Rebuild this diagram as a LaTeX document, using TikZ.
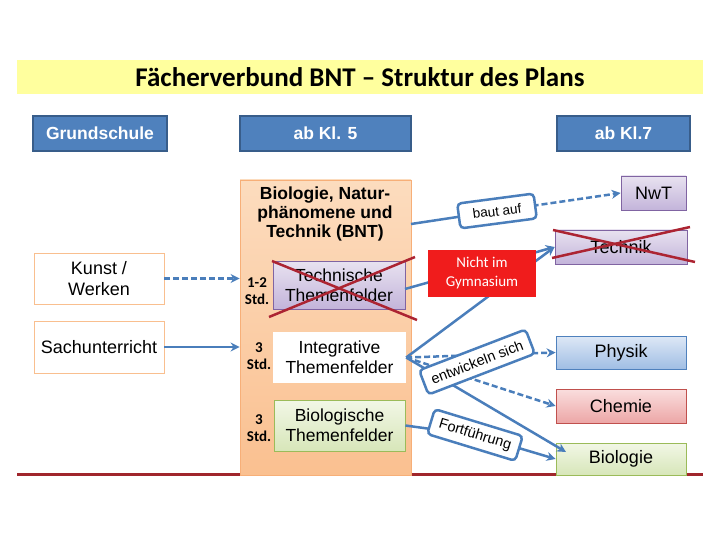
\documentclass[tikz,border=0pt]{standalone}
\usepackage{fontspec}
\setmainfont{Liberation Sans}
\newfontfamily\calfont{Carlito}
\usetikzlibrary{arrows.meta}
\pgfdeclarelayer{fg}
\pgfsetlayers{main,fg}
\definecolor{hdrfill}{RGB}{79,129,189}
\definecolor{hdrdraw}{RGB}{56,93,138}
\definecolor{conn}{RGB}{74,126,187}
\definecolor{bntlight}{RGB}{252,220,190}
\definecolor{bntdark}{RGB}{250,192,144}
\definecolor{bntdraw}{RGB}{247,175,120}
\definecolor{lavtop}{RGB}{232,226,240}
\definecolor{lavbot}{RGB}{195,180,218}
\definecolor{lavdraw}{RGB}{128,100,162}
\definecolor{grtop}{RGB}{242,247,230}
\definecolor{grbot}{RGB}{215,230,185}
\definecolor{grdraw}{RGB}{155,187,89}
\definecolor{bltop}{RGB}{222,232,246}
\definecolor{blbot}{RGB}{160,190,228}
\definecolor{bldraw}{RGB}{79,129,189}
\definecolor{rdtop}{RGB}{250,222,222}
\definecolor{rdbot}{RGB}{236,166,166}
\definecolor{rddraw}{RGB}{192,80,77}
\definecolor{titlebg}{RGB}{255,255,158}
\definecolor{xred}{RGB}{172,36,50}
\definecolor{barred}{RGB}{160,38,44}
\definecolor{nichtred}{RGB}{240,28,28}
\definecolor{orangeedge}{RGB}{249,191,143}
\begin{document}
\begin{tikzpicture}[x=1pt,y=-1pt,
  base/.style={rectangle, inner sep=0pt, align=center, font=\fontsize{18}{21}\selectfont},
  hdr/.style={base, fill=hdrfill, draw=hdrdraw, line width=1.5pt, text=white,
    font=\fontsize{17.5}{20}\selectfont\bfseries},
  titlebox/.style={rectangle, inner sep=0pt, fill=titlebg, font=\calfont\bfseries\fontsize{27}{30}\selectfont},
  bntbox/.style={rectangle, top color=bntlight, bottom color=bntdark, draw=bntdraw, line width=0.8pt},
  lavbox/.style={base, top color=lavtop, bottom color=lavbot, draw=lavdraw, line width=0.8pt},
  grbox/.style={base, top color=grtop, bottom color=grbot, draw=grdraw, line width=0.8pt},
  blbox/.style={base, top color=bltop, bottom color=blbot, draw=bldraw, line width=0.8pt},
  rdbox/.style={base, top color=rdtop, bottom color=rdbot, draw=rddraw, line width=0.8pt},
  whbox/.style={base, fill=white, draw=orangeedge, line width=0.8pt},
  themes/.style={font=\fontsize{17.5}{20}\selectfont},
  stdlbl/.style={inner sep=0pt, align=center, font=\calfont\bfseries\fontsize{15}{17}\selectfont},
  conline/.style={draw=conn, line width=2.5pt},
  arr/.style={conline, -{Stealth[length=9pt,width=9pt]}},
  dsh/.style={dash pattern=on 6pt off 3pt},
  lbl/.style={rectangle, rounded corners=4pt, draw=conn, line width=2.5pt, fill=white,
    inner sep=0pt, font=\fontsize{14.5}{16}\selectfont},
  xline/.style={draw=xred, line width=2.5pt}
]
\useasboundingbox (0,0) rectangle (720,540);

% bottom bar
\coordinate (barl) at (17,474);
\coordinate (barr) at (703,474);
\draw[barred, line width=3pt] (barl) -- (barr);

% title
\node[titlebox, minimum width=686pt, minimum height=34pt] (title) at (360,77)
  {Fächerverbund BNT – Struktur des Plans};

% headers
\node[hdr, minimum width=134pt, minimum height=35pt] (grund) at (100,133.5) {Grundschule};
\node[hdr, minimum width=171pt, minimum height=35pt] (kl5) at (325.5,133.5) {ab Kl. 5};
\node[hdr, minimum width=133pt, minimum height=35pt] (kl7) at (623.5,133.5) {ab Kl.7};

% BNT column
\node[bntbox, minimum width=171pt, minimum height=295pt] (bnt) at (325.5,327.5) {};
\node[inner sep=0pt, align=center, font=\fontsize{17.5}{19}\selectfont\bfseries] (bnttxt) at (325,214)
  {Biologie, Natur-\\phänomene und\\Technik (BNT)};
\node[lavbox, themes, minimum width=132pt, minimum height=48pt] (tech) at (339,285)
  {Technische\\Themenfelder};
\node[base, themes, fill=white, minimum width=133pt, minimum height=51pt] (integ) at (339.5,357.5)
  {Integrative\\Themenfelder};
\node[grbox, themes, minimum width=131pt, minimum height=51pt] (biol) at (339.5,425.5)
  {Biologische\\Themenfelder};
\node[stdlbl] (std1) at (257,291.5) {1-2\\Std.};
\node[stdlbl] (std2) at (259,356.5) {3\\Std.};
\node[stdlbl] (std3) at (259,428.5) {3\\Std.};

% red cross over Technische Themenfelder
\coordinate (tx1) at (272,261);
\coordinate (tx2) at (417,320);
\coordinate (tx3) at (415,257);
\coordinate (tx4) at (269,317);
\draw[xline] (tx1) -- (tx2);
\draw[xline] (tx3) -- (tx4);

% Grundschule boxes
\node[whbox, minimum width=130pt, minimum height=51pt] (kunst) at (99,278.5) {Kunst /\\Werken};
\node[whbox, minimum width=130pt, minimum height=52pt] (sach) at (99,347) {Sachunterricht};

% right column
\node[lavbox, minimum width=65pt, minimum height=34pt] (nwt) at (653.5,193) {NwT};
\node[lavbox, minimum width=132pt, minimum height=34pt] (technik) at (621,247) {Technik};
\node[blbox, minimum width=130pt, minimum height=33pt] (physik) at (621,352.5) {Physik};
\node[rdbox, minimum width=130pt, minimum height=34pt] (chemie) at (621,406) {Chemie};
\node[grbox, minimum width=130pt, minimum height=32pt] (biologie) at (621,459) {Biologie};

% red cross over Technik
\coordinate (kx1) at (553,230);
\coordinate (kx2) at (695,262);
\coordinate (kx3) at (690,227);
\coordinate (kx4) at (552,258);
\draw[xline] (kx1) -- (kx2);
\draw[xline] (kx3) -- (kx4);

% foreground: labels and red note
\begin{pgfonlayer}{fg}
\node[rectangle, fill=nichtred, minimum width=108pt, minimum height=47pt,
  inner sep=0pt, align=center, text=white, font=\calfont\fontsize{15}{19}\selectfont] (nicht) at (482,273.5)
  {Nicht im\\Gymnasium};
\node[lbl, minimum width=77pt, minimum height=25pt, rotate=7.5, font=\fontsize{13.5}{15}\selectfont] (baut) at (497,211) {baut auf};
\node[lbl, minimum width=114pt, minimum height=26pt, rotate=21] (entw) at (477,362) {entwickeln sich};
\node[lbl, minimum width=92pt, minimum height=26pt, rotate=-17] (fort) at (475,435) {Fortführung};
\end{pgfonlayer}

% connectors
\coordinate (bntr) at (411,224);
\coordinate (techr) at (405,289);
\coordinate (bioin) at (566,452);
\draw[arr, dsh] (kunst.east) -- (kunst.east -| bnt.west);
\draw[arr] (sach.east) -- (sach.east -| bnt.west);
\draw[conline] (bntr) -- (baut.center);
\draw[arr, dsh] (baut.center) -- (nwt.west);
\draw[arr] (techr) -- (technik.west);
\draw[arr] (integ.east) -- (technik.west);
\draw[arr, dsh] (integ.east) -- (physik.west);
\draw[arr, dsh] (integ.east) -- (chemie.west);
\draw[arr] (integ.east) -- (bioin);
\draw[arr] (biol.east) -- (fort.center) -- (biologie.west);
\end{tikzpicture}
\end{document}
